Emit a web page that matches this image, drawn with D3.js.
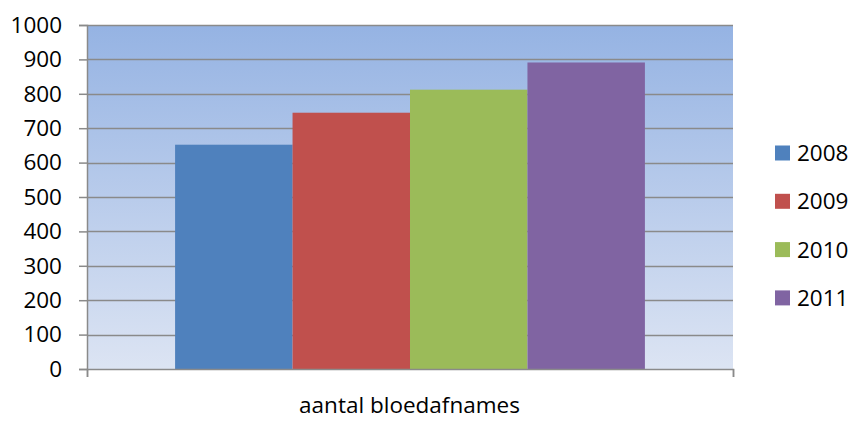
<!DOCTYPE html>
<html>
<head>
<meta charset="utf-8">
<script src="https://cdn.jsdelivr.net/npm/d3@7"></script>
<style>
  html, body { margin: 0; padding: 0; background: #fff; }
  svg { display: block; font-family: "Open Sans", "Liberation Sans", sans-serif; }
</style>
</head>
<body>
<svg id="chart" width="851" height="421"></svg>
<script>
// Blood donations per year (single category, one bar per year)
const category = "aantal bloedafnames";
const years = ["2008", "2009", "2010", "2011"];
const values = [652, 745, 812, 891];
const colors = ["#4f81bd", "#c0504d", "#9bbb59", "#8064a2"];
const yTicks = [0, 100, 200, 300, 400, 500, 600, 700, 800, 900, 1000];

const svg = d3.select("#chart");
const plot = { left: 87, right: 733, top: 25, bottom: 369 };
const fontSize = 22.5;

const y = d3.scaleLinear().domain([0, 1000]).range([plot.bottom, plot.top]);
const x0 = d3.scaleBand().domain([category]).range([plot.left, plot.right]).paddingInner(0).paddingOuter(0);
// Bars of the cluster fill 4/(4+1.5) of the category band (150% gap)
const clusterW = x0.bandwidth() * 4 / 5.5;
const x1 = d3.scaleBand().domain(years)
  .range([x0(category) + (x0.bandwidth() - clusterW) / 2, x0(category) + (x0.bandwidth() + clusterW) / 2]);

// Plot-area gradient background
const defs = svg.append("defs");
const grad = defs.append("linearGradient").attr("id", "bg").attr("x1", 0).attr("y1", 0).attr("x2", 0).attr("y2", 1);
grad.append("stop").attr("offset", "0%").attr("stop-color", "#95b3e3");
grad.append("stop").attr("offset", "100%").attr("stop-color", "#dce4f3");
svg.append("rect")
  .attr("x", plot.left).attr("y", plot.top)
  .attr("width", plot.right - plot.left).attr("height", plot.bottom - plot.top)
  .attr("fill", "url(#bg)");

// Gridlines
svg.append("g").selectAll("line").data(yTicks.filter(d => d > 0)).join("line")
  .attr("x1", plot.left).attr("x2", plot.right)
  .attr("y1", d => Math.round(y(d)) + 0.5).attr("y2", d => Math.round(y(d)) + 0.5)
  .attr("stroke", "#8a8a8a").attr("stroke-width", 1.5);

// Bars
svg.append("g").selectAll("rect").data(years).join("rect")
  .attr("x", d => x1(d)).attr("width", x1.bandwidth())
  .attr("y", (d, i) => y(values[i])).attr("height", (d, i) => y(0) - y(values[i]))
  .attr("fill", (d, i) => colors[i]);

// Y axis
const yAxis = d3.axisLeft(y).tickValues(yTicks).tickSize(8).tickPadding(17).tickFormat(d3.format("d"));
const gy = svg.append("g").attr("transform", `translate(${plot.left},0)`).call(yAxis);
gy.select(".domain").attr("stroke", "#8a8a8a").attr("stroke-width", 1.5);
gy.selectAll(".tick line").attr("stroke", "#8a8a8a").attr("stroke-width", 1.5);
gy.selectAll(".tick text").attr("font-size", fontSize).attr("fill", "#000")
  .attr("font-family", "'Open Sans', 'Liberation Sans', sans-serif");

// X axis with end ticks
const xAxis = d3.axisBottom(d3.scaleLinear().domain([0, 1]).range([plot.left, plot.right]))
  .tickValues([0, 1]).tickSize(8).tickFormat("");
const gx = svg.append("g").attr("transform", `translate(0,${plot.bottom})`).call(xAxis);
gx.select(".domain").attr("stroke", "#8a8a8a").attr("stroke-width", 1.5);
gx.selectAll(".tick line").attr("stroke", "#8a8a8a").attr("stroke-width", 1.5);

// Category label
svg.append("text")
  .attr("x", x0(category) + x0.bandwidth() / 2 - 0.5).attr("y", 413)
  .attr("text-anchor", "middle").attr("font-size", fontSize).attr("fill", "#000")
  .text(category);

// Legend
const legend = svg.append("g").selectAll("g").data(years).join("g")
  .attr("transform", (d, i) => `translate(775,${153 + i * 48.3})`);
legend.append("rect").attr("x", 0).attr("y", -7.5).attr("width", 15).attr("height", 15)
  .attr("fill", (d, i) => colors[i]);
legend.append("text").attr("x", 22).attr("y", 0).attr("dy", "0.36em")
  .attr("font-size", fontSize).attr("fill", "#000").text(d => d);
</script>
</body>
</html>
